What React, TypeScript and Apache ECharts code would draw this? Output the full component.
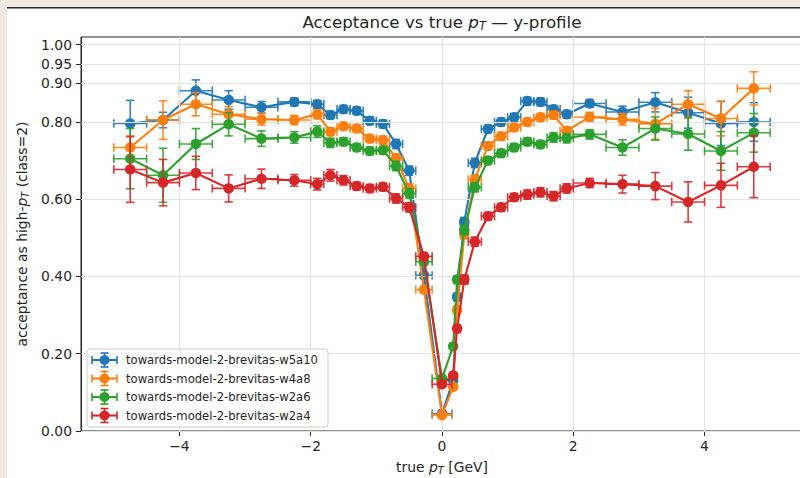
import React, { useEffect, useRef } from 'react';
import * as echarts from 'echarts';

const SERIES_NAMES = [
  'towards-model-2-brevitas-w5a10',
  'towards-model-2-brevitas-w4a8',
  'towards-model-2-brevitas-w2a6',
  'towards-model-2-brevitas-w2a4',
];
const COLORS = ['#1f77b4', '#ff7f0e', '#2ca02c', '#d62728'];

// bin centres of true pT and half bin widths
const X_CENTERS = [
  -4.75, -4.25, -3.75, -3.25, -2.75, -2.25,
  -1.9, -1.7, -1.5, -1.3, -1.1, -0.9, -0.7, -0.5,
  -0.275, 0,
  0.17, 0.23, 0.34,
  0.5, 0.7, 0.9, 1.1, 1.3, 1.5, 1.7, 1.9,
  2.25, 2.75, 3.25, 3.75, 4.25, 4.75,
];
const X_ERRORS = [
  0.25, 0.25, 0.25, 0.25, 0.25, 0.25,
  0.1, 0.1, 0.1, 0.1, 0.1, 0.1, 0.1, 0.1,
  0.125, 0.15,
  0.02, 0.02, 0.06,
  0.1, 0.1, 0.1, 0.1, 0.1, 0.1, 0.1, 0.1,
  0.25, 0.25, 0.25, 0.25, 0.25, 0.25,
];

const Y_W5A10 = [
  0.796, 0.805, 0.881, 0.857, 0.838, 0.852,
  0.846, 0.818, 0.833, 0.829, 0.803, 0.795, 0.743, 0.674,
  0.403, 0.045,
  0.131, 0.347, 0.541,
  0.694, 0.782, 0.8, 0.812, 0.854, 0.852, 0.833, 0.82,
  0.848, 0.826, 0.851, 0.824, 0.796, 0.8,
];
const YERR_W5A10 = [
  0.06, 0.02, 0.028, 0.024, 0.015, 0.01,
  0.01, 0.01, 0.01, 0.01, 0.01, 0.01, 0.012, 0.012,
  0.008, 0.005,
  0.006, 0.01, 0.012,
  0.012, 0.01, 0.01, 0.01, 0.01, 0.01, 0.01, 0.01,
  0.01, 0.015, 0.025, 0.04, 0.057, 0.05,
];

const Y_W4A8 = [
  0.734, 0.805, 0.846, 0.82, 0.807, 0.805,
  0.82, 0.775, 0.789, 0.783, 0.757, 0.753, 0.706, 0.628,
  0.366, 0.041,
  0.114, 0.313, 0.51,
  0.651, 0.738, 0.763, 0.786, 0.8, 0.812, 0.818, 0.777,
  0.813, 0.807, 0.795, 0.846, 0.809, 0.887,
];
const YERR_W4A8 = [
  0.03, 0.05, 0.03, 0.02, 0.015, 0.012,
  0.012, 0.01, 0.01, 0.01, 0.01, 0.01, 0.012, 0.012,
  0.008, 0.005,
  0.006, 0.01, 0.012,
  0.012, 0.01, 0.01, 0.01, 0.01, 0.01, 0.01, 0.01,
  0.012, 0.015, 0.04, 0.035, 0.045, 0.043,
];

const Y_W2A6 = [
  0.705, 0.662, 0.743, 0.794, 0.757, 0.76,
  0.775, 0.746, 0.749, 0.734, 0.725, 0.727, 0.686, 0.615,
  0.438, 0.136,
  0.219, 0.392, 0.52,
  0.631, 0.7, 0.719, 0.734, 0.749, 0.742, 0.76, 0.758,
  0.768, 0.734, 0.783, 0.769, 0.725, 0.772,
];
const YERR_W2A6 = [
  0.078, 0.07, 0.04, 0.03, 0.02, 0.015,
  0.015, 0.012, 0.01, 0.01, 0.01, 0.01, 0.012, 0.012,
  0.008, 0.006,
  0.006, 0.01, 0.012,
  0.012, 0.01, 0.01, 0.01, 0.01, 0.01, 0.012, 0.012,
  0.012, 0.02, 0.03, 0.042, 0.05, 0.05,
];

const Y_W2A4 = [
  0.677, 0.643, 0.668, 0.628, 0.653, 0.649,
  0.639, 0.662, 0.649, 0.634, 0.628, 0.632, 0.602, 0.579,
  0.452, 0.121,
  0.144, 0.265, 0.392,
  0.49, 0.556, 0.579, 0.605, 0.612, 0.618, 0.608, 0.628,
  0.642, 0.639, 0.634, 0.593, 0.636, 0.684,
];
const YERR_W2A4 = [
  0.085, 0.06, 0.043, 0.035, 0.025, 0.015,
  0.015, 0.015, 0.012, 0.01, 0.01, 0.01, 0.012, 0.012,
  0.01, 0.006,
  0.006, 0.01, 0.012,
  0.012, 0.01, 0.01, 0.01, 0.012, 0.012, 0.012, 0.012,
  0.012, 0.023, 0.035, 0.052, 0.057, 0.08,
];

const Y_VALUES = [Y_W5A10, Y_W4A8, Y_W2A6, Y_W2A4];
const Y_ERRORS = [YERR_W5A10, YERR_W4A8, YERR_W2A6, YERR_W2A4];

const X_TICKS = [-4, -2, 0, 2, 4];
const Y_TICKS = [0, 0.2, 0.4, 0.6, 0.8, 0.9, 0.95, 1.0];

const FONT = 'DejaVu Sans';
const INK = '#262626';

export default function App() {
  const ref = useRef<HTMLDivElement>(null);

  useEffect(() => {
    const chart = echarts.init(ref.current!, null, { renderer: 'svg' });

    const series: any[] = [];
    // grid lines
    series.push({
      type: 'line',
      data: [[0, 0]],
      showSymbol: false,
      symbol: 'none',
      lineStyle: { width: 0, opacity: 0 },
      silent: true,
      z: 1,
      markLine: {
        silent: true,
        symbol: ['none', 'none'],
        label: { show: false },
        lineStyle: { color: '#e3e3e3', width: 1, type: 'solid' },
        data: [
          ...Y_TICKS.map((v) => ({ yAxis: v })),
          ...X_TICKS.map((v) => ({ xAxis: v })),
        ],
      },
    });

    SERIES_NAMES.forEach((name, k) => {
      const color = COLORS[k];
      const errData = X_CENTERS.map((x, i) => [x, Y_VALUES[k][i], X_ERRORS[i], Y_ERRORS[k][i]]);
      series.push({
        type: 'custom',
        name: name + ' err',
        data: errData,
        encode: { x: 0, y: 1 },
        z: 2 + 2 * k,
        silent: true,
        renderItem: (_params: any, api: any) => {
          const x = api.value(0);
          const y = api.value(1);
          const xe = api.value(2);
          const ye = api.value(3);
          const a = api.coord([x - xe, y]);
          const b = api.coord([x + xe, y]);
          const c = api.coord([x, y - ye]);
          const d = api.coord([x, y + ye]);
          const cap = 4.2;
          const style = { stroke: color, lineWidth: 1.6, opacity: 0.9 };
          return {
            type: 'group',
            children: [
              { type: 'line', shape: { x1: a[0], y1: a[1], x2: b[0], y2: b[1] }, style },
              { type: 'line', shape: { x1: c[0], y1: c[1], x2: d[0], y2: d[1] }, style },
              { type: 'line', shape: { x1: a[0], y1: a[1] - cap, x2: a[0], y2: a[1] + cap }, style },
              { type: 'line', shape: { x1: b[0], y1: b[1] - cap, x2: b[0], y2: b[1] + cap }, style },
              { type: 'line', shape: { x1: c[0] - cap, y1: c[1], x2: c[0] + cap, y2: c[1] }, style },
              { type: 'line', shape: { x1: d[0] - cap, y1: d[1], x2: d[0] + cap, y2: d[1] }, style },
            ],
          };
        },
      });
      series.push({
        type: 'line',
        name,
        data: X_CENTERS.map((x, i) => [x, Y_VALUES[k][i]]),
        symbol: 'circle',
        symbolSize: 10.5,
        showSymbol: true,
        lineStyle: { color, width: 2.1 },
        itemStyle: { color },
        z: 3 + 2 * k,
      });
    });

    const sub = (size: number, pad: number) => ({
      fontFamily: FONT,
      fontSize: size,
      fontStyle: 'italic',
      fill: INK,
      color: INK,
      padding: [pad, 0, 0, 0],
    });
    const ital = (size: number) => ({
      fontFamily: FONT,
      fontSize: size,
      fontStyle: 'italic',
      fill: INK,
      color: INK,
    });

    const textEl = (text: string, x: number, y: number, size: number, rotation = 0, subSize = 10, subPad = 6) => ({
      type: 'text',
      x,
      y,
      rotation,
      z: 100,
      silent: true,
      style: {
        text,
        fill: INK,
        fontFamily: FONT,
        fontSize: size,
        align: 'center',
        textAlign: 'center',
        verticalAlign: 'middle',
        textVerticalAlign: 'middle',
        rich: {
          i: ital(size),
          s: sub(subSize, subPad),
        },
      },
    });

    const legendRows = [360, 378.5, 397, 415.5];
    const legendEls: any[] = [
      {
        type: 'rect',
        shape: { x: 87, y: 349, width: 241, height: 78, r: 3 },
        style: { fill: 'rgba(255,255,255,0.85)', stroke: '#cccccc', lineWidth: 1 },
        z: 90,
        silent: true,
      },
    ];
    SERIES_NAMES.forEach((name, k) => {
      const y = legendRows[k];
      const color = COLORS[k];
      const st = { stroke: color, lineWidth: 1.6 };
      legendEls.push(
        { type: 'line', shape: { x1: 92, y1: y, x2: 117, y2: y }, style: { stroke: color, lineWidth: 2.1 }, z: 91, silent: true },
        { type: 'line', shape: { x1: 92, y1: y - 4, x2: 92, y2: y + 4 }, style: st, z: 91, silent: true },
        { type: 'line', shape: { x1: 117, y1: y - 4, x2: 117, y2: y + 4 }, style: st, z: 91, silent: true },
        { type: 'line', shape: { x1: 104.5, y1: y - 7, x2: 104.5, y2: y + 7 }, style: st, z: 91, silent: true },
        { type: 'line', shape: { x1: 100.5, y1: y - 7, x2: 108.5, y2: y - 7 }, style: st, z: 91, silent: true },
        { type: 'line', shape: { x1: 100.5, y1: y + 7, x2: 108.5, y2: y + 7 }, style: st, z: 91, silent: true },
        { type: 'circle', shape: { cx: 104.5, cy: y, r: 5 }, style: { fill: color }, z: 92, silent: true },
        {
          type: 'text',
          x: 126,
          y,
          z: 92,
          silent: true,
          style: {
            text: name,
            fill: INK,
            fontFamily: FONT,
            fontSize: 11.6,
            align: 'left',
            textAlign: 'left',
            verticalAlign: 'middle',
            textVerticalAlign: 'middle',
          },
        }
      );
    });

    const option: any = {
      animation: false,
      backgroundColor: '#ffffff',
      grid: {
        left: 81,
        top: 37,
        width: 722,
        height: 394,
        show: true,
        borderColor: INK,
        borderWidth: 1,
        backgroundColor: '#ffffff',
        containLabel: false,
      },
      xAxis: {
        type: 'value',
        min: -5.5,
        max: 5.5,
        axisLine: { show: true, onZero: false, lineStyle: { color: INK, width: 1 } },
        axisTick: { show: true, length: 5, lineStyle: { color: INK }, customValues: X_TICKS },
        axisLabel: {
          customValues: X_TICKS,
          margin: 8,
          color: INK,
          fontFamily: FONT,
          fontSize: 13.9,
          formatter: (v: number) => (v < 0 ? '\u2212' + Math.abs(v) : String(v)),
        },
        splitLine: { show: false },
      },
      yAxis: {
        type: 'value',
        min: 0,
        max: 1.02,
        axisLine: { show: true, onZero: false, lineStyle: { color: INK, width: 1 } },
        axisTick: { show: true, length: 5, lineStyle: { color: INK }, customValues: Y_TICKS },
        axisLabel: {
          customValues: Y_TICKS,
          margin: 9,
          color: INK,
          fontFamily: FONT,
          fontSize: 13.9,
          formatter: (v: number) => v.toFixed(2),
        },
        splitLine: { show: false },
      },
      series,
      graphic: [
        { type: 'rect', shape: { x: 0, y: 0, width: 820, height: 7 }, style: { fill: '#f2e8e0' }, z: 200, silent: true },
        { type: 'rect', shape: { x: 0, y: 0, width: 7, height: 478 }, style: { fill: '#f2e8e0' }, z: 200, silent: true },
        { type: 'rect', shape: { x: 7, y: 7, width: 813, height: 1.6 }, style: { fill: '#2a2a2a' }, z: 200, silent: true },
        textEl('Acceptance vs true {i|p}{s|T} \u2014 y-profile', 442, 22, 16.7, 0, 11.5, 7),
        textEl('true {i|p}{s|T} [GeV]', 442, 467, 13.9, 0, 9.8, 6),
        textEl('acceptance as high-{i|p}{s|T} (class=2)', 22, 234, 13.9, Math.PI / 2, 9.8, 6),
        ...legendEls,
      ],
    };

    chart.setOption(option);
    return () => chart.dispose();
  }, []);

  return (
    <div
      ref={ref}
      style={{ position: 'fixed', left: 0, top: 0, width: 812, height: 478, background: '#fff' }}
    />
  );
}
